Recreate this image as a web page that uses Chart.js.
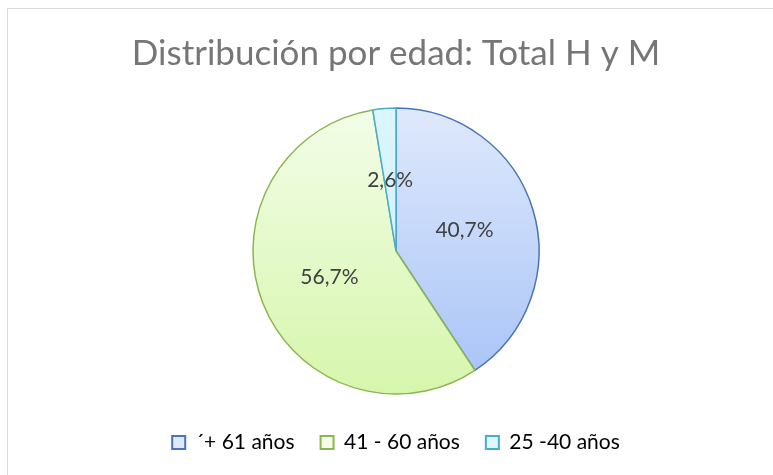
<!DOCTYPE html>
<html>
<head>
<meta charset="utf-8">
<script src="https://cdn.jsdelivr.net/npm/chart.js@4.4.1/dist/chart.umd.min.js"></script>
<style>
  body { margin: 0; background: #fff; }
  #wrap { position: relative; width: 773px; height: 475px; overflow: hidden; }
  #frame { position: absolute; left: 7px; top: 8px; width: 800px; height: 500px; border: 1px solid #d9d9d9; pointer-events: none; }
</style>
</head>
<body>
<div id="wrap">
  <canvas id="pie" width="773" height="475"></canvas>
  <div id="frame"></div>
</div>
<script>
const labels = ['\u00b4+ 61 a\u00f1os', '41 - 60 a\u00f1os', '25 -40 a\u00f1os'];
const values = [40.7, 56.7, 2.6];
const topColors = ['#dfe9fc', '#f3fde8', '#dcf6fd'];
const bottomColors = ['#a6c2f7', '#d6f6ac', '#c8effa'];
const borderColors = ['#4a74b8', '#8cb552', '#4aaccb'];
const fontFamily = 'Lato, "Open Sans", sans-serif';
const pieRadius = 143;

// percentage labels in the middle of each slice
const sliceLabels = {
  id: 'sliceLabels',
  afterDatasetsDraw(chart) {
    const ctx = chart.ctx;
    const meta = chart.getDatasetMeta(0);
    ctx.save();
    ctx.font = '21px ' + fontFamily;
    ctx.fillStyle = '#404040';
    ctx.textAlign = 'center';
    ctx.textBaseline = 'middle';
    meta.data.forEach(function (arc, i) {
      const p = arc.tooltipPosition();
      ctx.fillText(values[i].toFixed(1).replace('.', ',') + '%', p.x, p.y);
    });
    ctx.restore();
  }
};

new Chart(document.getElementById('pie'), {
  type: 'pie',
  plugins: [sliceLabels],
  data: {
    labels: labels,
    datasets: [{
      data: values,
      backgroundColor: function (context) {
        const area = context.chart.chartArea;
        const i = context.dataIndex;
        if (!area) return topColors[i];
        const cy = (area.top + area.bottom) / 2;
        const g = context.chart.ctx.createLinearGradient(0, cy - pieRadius, 0, cy + pieRadius);
        g.addColorStop(0, topColors[i]);
        g.addColorStop(1, bottomColors[i]);
        return g;
      },
      borderColor: borderColors,
      borderWidth: 1.5
    }]
  },
  options: {
    responsive: false,
    animation: false,
    radius: pieRadius,
    layout: {
      padding: { left: 29, right: 10, top: 0, bottom: 12 }
    },
    plugins: {
      title: {
        display: true,
        text: 'Distribuci\u00f3n por edad: Total H y M',
        color: '#767676',
        font: { family: fontFamily, size: 35, weight: 'normal' },
        padding: { top: 33, bottom: 21 }
      },
      legend: {
        position: 'bottom',
        labels: {
          color: '#767676',
          font: { family: fontFamily, size: 21 },
          boxWidth: 13,
          boxHeight: 13,
          padding: 26,
          generateLabels: function (chart) {
            return labels.map(function (t, i) {
              return {
                text: t,
                fillStyle: topColors[i],
                strokeStyle: borderColors[i],
                lineWidth: 2,
                index: i,
                hidden: false
              };
            });
          }
        }
      },
      tooltip: { enabled: false }
    }
  }
});
</script>
</body>
</html>
